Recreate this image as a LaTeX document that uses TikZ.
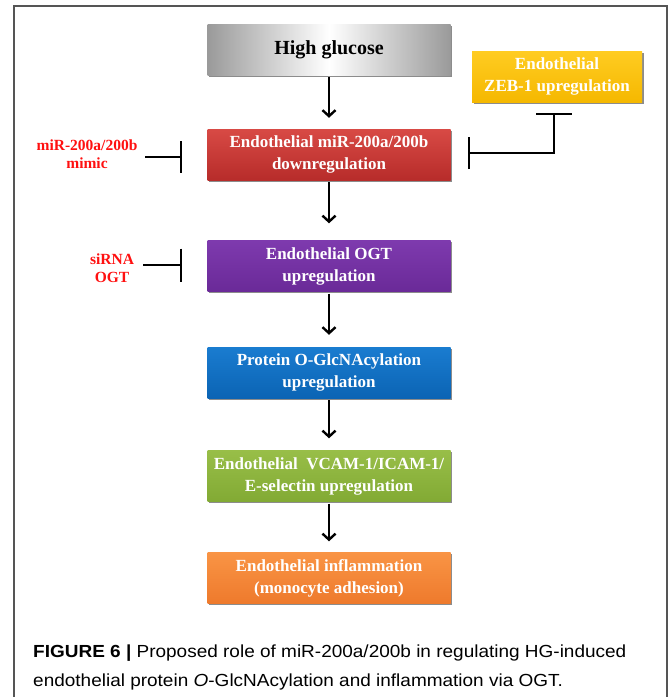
\documentclass[tikz,border=0pt]{standalone}
\usepackage{fontspec}
\setmainfont{Liberation Serif}
\newfontfamily\capfont[FakeStretch=1.085]{Liberation Sans}
\usetikzlibrary{arrows.meta,shadows}
\definecolor{frameg}{HTML}{555555}
\definecolor{hgedge}{HTML}{9A9A9A}
\definecolor{yelA}{HTML}{FFCC22}
\definecolor{yelB}{HTML}{F5B800}
\definecolor{redA}{HTML}{D84A45}
\definecolor{redB}{HTML}{B72C2A}
\definecolor{purA}{HTML}{7E3AAE}
\definecolor{purB}{HTML}{6A2A98}
\definecolor{bluA}{HTML}{1A7CD0}
\definecolor{bluB}{HTML}{0B64B4}
\definecolor{grnA}{HTML}{98BE48}
\definecolor{grnB}{HTML}{82AA34}
\definecolor{orgA}{HTML}{F99445}
\definecolor{orgB}{HTML}{EE7A2C}
\definecolor{inhred}{HTML}{FF1010}
\tikzset{
  box/.style={minimum width=243pt, minimum height=51pt, align=center,
    font=\fontsize{17}{22}\selectfont\bfseries, text=white,
    drop shadow={shadow xshift=1.5pt, shadow yshift=-1.5pt, opacity=0.45, fill=black}},
  flow/.style={line width=2.4pt, -{Straight Barb[length=6pt,width=13pt,line width=2.4pt]}, shorten >=11pt, shorten <=2pt},
  inhlabel/.style={text=inhred, align=center, font=\fontsize{15.5}{18.5}\selectfont\bfseries},
  inh/.style={line width=2.4pt},
}
\begin{document}
\begin{tikzpicture}[x=1pt,y=-1pt]
\useasboundingbox (0,0) rectangle (669,697);
% frame
\draw[frameg, line width=1.5pt] (14,697) -- (14,6) -- (667,6) -- (667,697);
% boxes
\node[box, text=black, font=\fontsize{20}{22}\selectfont\bfseries, left color=hgedge, right color=hgedge, middle color=white, drop shadow={opacity=0}] (hg) at (329,49.5) {High glucose};
\node[box, minimum width=170pt, top color=yelA, bottom color=yelB] (zeb) at (557,76.5) {Endothelial\\ZEB-1 upregulation};
\node[box, top color=redA, bottom color=redB] (mir) at (329,154.5) {Endothelial miR-200a/200b\\downregulation};
\node[box, top color=purA, bottom color=purB] (ogt) at (329,266) {Endothelial OGT\\upregulation};
\node[box, top color=bluA, bottom color=bluB] (glc) at (329,372.5) {Protein O-GlcNAcylation\\upregulation};
\node[box, top color=grnA, bottom color=grnB] (vcam) at (329,476) {Endothelial\ \ VCAM-1/ICAM-1/\\E-selectin upregulation};
\node[box, top color=orgA, bottom color=orgB] (infl) at (329,578) {Endothelial inflammation\\(monocyte adhesion)};
% flow arrows
\draw[flow] (hg.south) -- (mir.north);
\draw[flow, shorten >=17pt] (mir.south) -- (ogt.north);
\draw[flow, shorten >=12pt] (ogt.south) -- (glc.north);
\draw[flow, shorten >=12pt] (glc.south) -- (vcam.north);
\draw[flow] (vcam.south) -- (infl.north);
% inhibitor labels
\node[inhlabel] (mimic) at (87,154) {miR-200a/200b\\mimic};
\node[inhlabel] (sirna) at (112,268) {siRNA\\OGT};
\coordinate (mimicbar) at (182,157);
\coordinate (sirnabar) at (182,265);
\draw[inh, -{Bar[width=32pt,line width=2.4pt]}] (145,157) -- (mimicbar);
\draw[inh, -{Bar[width=33pt,line width=2.4pt]}] (143,265) -- (sirnabar);
% ZEB inhibitor
\coordinate (zebtee) at (554,113);
\coordinate (zebbar) at (468,153);
\draw[inh, {Bar[width=36pt,line width=2.4pt]}-{Bar[width=32pt,line width=2.4pt]}] (zebtee) |- (zebbar);
% caption
\node[anchor=west, font=\capfont\fontsize{17.5}{29}\selectfont, align=left, inner sep=0pt] (cap) at (33,667)
 {\textbf{FIGURE 6 |} Proposed role of miR-200a/200b in regulating HG-induced\\endothelial protein \textit{O}-GlcNAcylation and inflammation via OGT.};
\end{tikzpicture}
\end{document}
